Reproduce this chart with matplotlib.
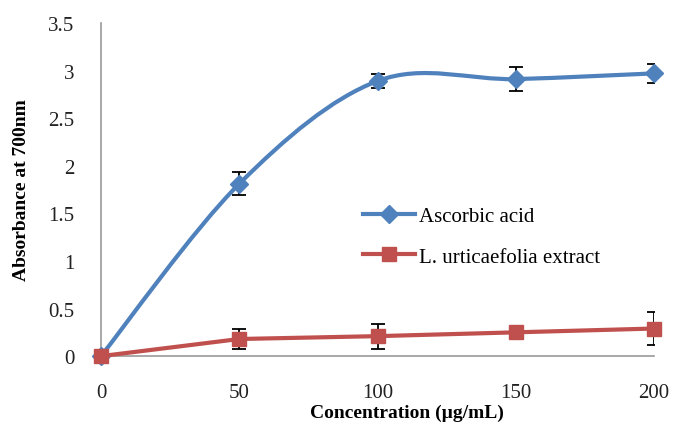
import numpy as np
import matplotlib
matplotlib.use("Agg")
import matplotlib.pyplot as plt
from matplotlib.path import Path
from matplotlib.patches import PathPatch
from matplotlib.lines import Line2D

plt.rcParams['font.family'] = ['Liberation Serif', 'DejaVu Serif']

conc = [0, 50, 100, 150, 200]
ascorbic = [0, 1.81, 2.89, 2.91, 2.97]
ascorbic_err = [0, 0.12, 0.07, 0.13, 0.10]
extract = [0, 0.18, 0.21, 0.25, 0.29]
extract_err = [0, 0.10, 0.13, 0.03, 0.17]

BLUE = '#4F81BD'
RED = '#C0504D'


def smooth_path(xs, ys):
    # Excel-like smoothed line: cubic bezier through points (Catmull-Rom)
    pts = np.column_stack([xs, ys]).astype(float)
    verts = [pts[0]]
    codes = [Path.MOVETO]
    n = len(pts)
    for i in range(n - 1):
        p0 = pts[i - 1] if i > 0 else pts[i]
        p1 = pts[i]
        p2 = pts[i + 1]
        p3 = pts[i + 2] if i + 2 < n else pts[i + 1]
        c1 = p1 + (p2 - p0) / 6.0
        c2 = p2 - (p3 - p1) / 6.0
        verts += [c1, c2, p2]
        codes += [Path.CURVE4] * 3
    return Path(verts, codes)


fig = plt.figure(figsize=(6.73, 4.35), dpi=100)
ax = fig.add_axes([0.150, 0.179, 0.822, 0.766])

ax.add_patch(PathPatch(smooth_path(conc, ascorbic), fill=False,
                       edgecolor=BLUE, lw=3, zorder=3, capstyle='round'))
ax.errorbar(conc, ascorbic, yerr=ascorbic_err, fmt='none', ecolor='black',
            elinewidth=1.3, capsize=5, capthick=1.3, zorder=4)
ax.plot(conc, ascorbic, linestyle='none', marker='D', markersize=9,
        color=BLUE, zorder=5, clip_on=False)

ax.errorbar(conc, extract, yerr=extract_err, fmt='none', ecolor='black',
            elinewidth=1.3, capsize=5, capthick=1.3, zorder=4)
ax.plot(conc, extract, color=RED, lw=3, marker='s', markersize=10,
        zorder=5, clip_on=False)

ax.set_xlim(0, 200)
ax.set_ylim(0, 3.5)
ax.set_xticks(conc)
ax.set_yticks(np.arange(0, 3.51, 0.5))
ax.set_yticklabels(['0', '0.5', '1', '1.5', '2', '2.5', '3', '3.5'])
ax.tick_params(axis='both', length=0, labelsize=15, colors='#222222')
ax.tick_params(axis='x', pad=19)
ax.tick_params(axis='y', pad=19)

for s in ['top', 'right']:
    ax.spines[s].set_visible(False)
ax.spines['left'].set_color('#999999')
ax.spines['bottom'].set_color('#999999')
ax.spines['left'].set_linewidth(1.2)
ax.spines['bottom'].set_linewidth(1.2)

fig.text(407 / 673, 1 - 413 / 435, 'Concentration (µg/mL)', ha='center',
         va='center', fontsize=14, fontweight='bold')
fig.text(22 / 673, 1 - 190 / 435, 'Absorbance at 700nm', ha='center',
         va='center', rotation=90, fontsize=14, fontweight='bold')

handles = [
    Line2D([], [], color=BLUE, lw=3, marker='D', markersize=9),
    Line2D([], [], color=RED, lw=3, marker='s', markersize=10),
]
ax.legend(handles, ['Ascorbic acid', 'L. urticaefolia extract'],
          loc='upper left', bbox_to_anchor=(0.44, 0.505), frameon=False,
          fontsize=15, handlelength=2.5, handletextpad=0.2, labelspacing=1.0)

fig.savefig('out.png', dpi=100)
